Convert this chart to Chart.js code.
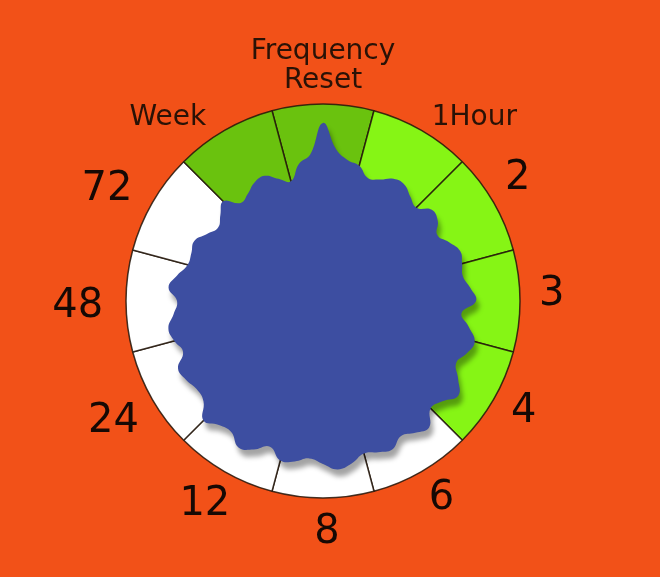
<!DOCTYPE html>
<html>
<head>
<meta charset="utf-8">
<script src="https://cdn.jsdelivr.net/npm/chart.js@4/dist/chart.umd.min.js"></script>
<style>
html, body { margin: 0; padding: 0; background: #F25118; }
#wrap { width: 660px; height: 577px; position: relative; }
</style>
</head>
<body>
<div id="wrap"><canvas id="c"></canvas></div>
<script>
// ---- data ----
const categories = [['Frequency', 'Reset'], '1Hour', '2', '3', '4', '6', '8', '12', '24', '48', '72', 'Week'];
const segmentValues = [100, 100, 100, 100, 100, 100, 100, 100, 100, 100, 100, 100];
// blob radius (% of full radius), every 5 degrees, starting 15 degrees left of top, clockwise
const blobValues = [
  62.9, 70.6, 74.6,
  90.4, 77.2, 72.6, 71.1, 66.5, 68.0, 71.6, 72.1, 69.0, 67.0, 72.1, 71.1,
  67.0, 70.6, 74.1, 73.1, 72.1, 75.1, 77.7, 70.6, 75.1, 79.7, 77.7, 74.6,
  79.2, 83.8, 79.2, 77.2, 83.8, 81.7, 79.2, 83.2, 81.7, 80.2, 83.8, 85.8,
  82.7, 80.2, 82.7, 83.8, 78.7, 83.2, 85.8, 81.2, 82.2, 85.8, 79.2, 78.2,
  80.2, 81.2, 75.6, 78.2, 79.7, 76.1, 74.1, 78.7, 75.1, 71.1, 71.1, 72.1,
  68.0, 65.0, 68.0, 71.6, 65.0, 66.5, 69.5, 70.1, 66.0
];
const stepsPerCategory = blobValues.length / categories.length; // 6

// ---- styles ----
const DARK_GREEN = '#6AC20E', LIGHT_GREEN = '#86F515', WHITE = '#FFFFFF';
const segmentColors = [DARK_GREEN, LIGHT_GREEN, LIGHT_GREEN, LIGHT_GREEN, LIGHT_GREEN,
  WHITE, WHITE, WHITE, WHITE, WHITE, WHITE, DARK_GREEN];
// small hand offsets (px) for the word labels, as placed in the original artwork
const labelNudge = { 'Frequency': [2, 10], '1Hour': [23, 16], 'Week': [-25, 16] };
const LABEL_SHIFT = [-2, -5];
const LABEL_ROTATE = -1.5 * Math.PI / 180;

const labels = blobValues.map((v, i) =>
  (i % stepsPerCategory === stepsPerCategory / 2) ? categories[(i - stepsPerCategory / 2) / stepsPerCategory] : '');

const shadowPlugin = {
  id: 'blobShadow',
  afterDatasetDraw(chart, args) {
    const ctx = chart.ctx;
    if (args.meta.type === 'polarArea') {
      ctx.save();
      ctx.shadowColor = 'rgba(0,0,0,0.36)';
      ctx.shadowOffsetX = 3;
      ctx.shadowOffsetY = 7;
      ctx.shadowBlur = 5;
    } else if (args.meta.type === 'radar') {
      ctx.restore();
    }
  }
};

const labelPlugin = {
  id: 'catLabels',
  afterDraw(chart) {
    const scale = chart.scales.r;
    const ctx = chart.ctx;
    ctx.save();
    categories.forEach((cat, k) => {
      const lines = Array.isArray(cat) ? cat : [cat];
      const numeric = /^\d+$/.test(lines[0]);
      const size = numeric ? 40 : 28;
      const lineH = numeric ? size * 1.1 : 29;
      const cap = size * 0.73;
      ctx.font = size + 'px "DejaVu Sans"';
      const w = Math.max(...lines.map(l => ctx.measureText(l).width));
      const h = (lines.length - 1) * lineH + cap;
      const p = scale.getPointPosition(stepsPerCategory / 2 + stepsPerCategory * k,
        scale.drawingArea + 21, numeric ? LABEL_ROTATE : 0);
      const nudge = labelNudge[lines[0]] || [0, 0];
      const cx = p.x + Math.cos(p.angle) * w / 2 + nudge[0] + LABEL_SHIFT[0];
      const cy = p.y + Math.sin(p.angle) * h / 2 + nudge[1] + LABEL_SHIFT[1];
      ctx.fillStyle = numeric ? '#160904' : '#2a1206';
      ctx.textAlign = 'center';
      ctx.textBaseline = 'alphabetic';
      lines.forEach((l, j) => ctx.fillText(l, cx, cy - h / 2 + cap + j * lineH));
    });
    ctx.restore();
  }
};

new Chart(document.getElementById('c'), {
  type: 'radar',
  data: {
    labels: labels,
    datasets: [
      {
        type: 'radar',
        data: blobValues,
        order: 1,
        backgroundColor: '#3D4EA1',
        borderWidth: 0,
        borderColor: 'rgba(0,0,0,0)',
        pointRadius: 0,
        pointHoverRadius: 0,
        fill: 'origin',
        tension: 0.45
      },
      {
        type: 'polarArea',
        data: segmentValues,
        order: 2,
        backgroundColor: segmentColors,
        borderColor: 'rgba(35,22,10,0.85)',
        borderWidth: 1.5
      }
    ]
  },
  options: {
    responsive: true,
    maintainAspectRatio: false,
    animation: false,
    events: [],
    layout: { padding: { left: 126, right: 140, top: 104, bottom: 79 } },
    plugins: { legend: { display: false }, tooltip: { enabled: false } },
    scales: {
      r: {
        min: 0,
        max: 100,
        startAngle: -15,
        grid: { display: false },
        angleLines: { display: false },
        ticks: { display: false },
        pointLabels: { display: false }
      }
    }
  },
  plugins: [shadowPlugin, labelPlugin]
});
</script>
</body>
</html>
